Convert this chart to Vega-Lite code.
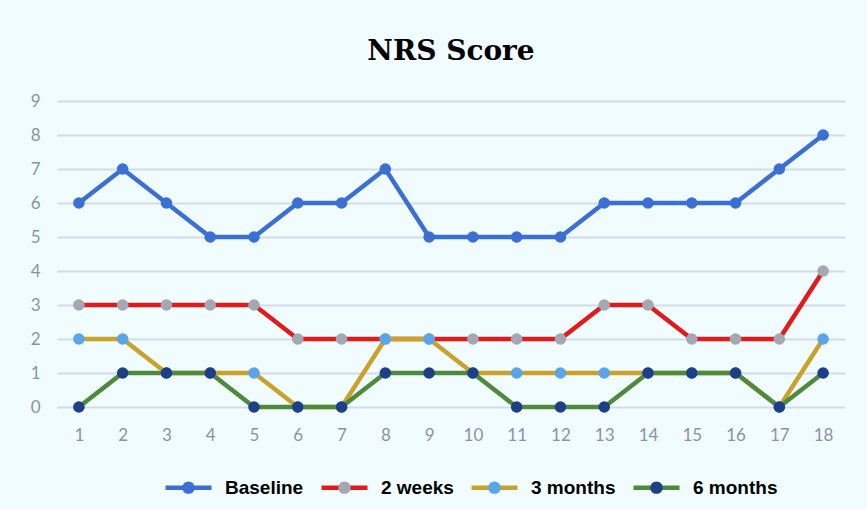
{
  "$schema": "https://vega.github.io/schema/vega-lite/v6.json",
  "width": 788,
  "height": 306,
  "autosize": {"type": "none"},
  "padding": {"left": 57, "top": 101, "right": 22, "bottom": 102},
  "background": "#f0fcfd",
  "title": {
    "text": "NRS Score",
    "font": "DejaVu Serif",
    "fontSize": 28,
    "fontWeight": "bold",
    "color": "#000000",
    "anchor": "middle",
    "offset": 26
  },
  "config": {
    "view": {"stroke": null}
  },
  "data": {
    "values": [
      {"x": 1, "series": "Baseline", "value": 6},
      {"x": 2, "series": "Baseline", "value": 7},
      {"x": 3, "series": "Baseline", "value": 6},
      {"x": 4, "series": "Baseline", "value": 5},
      {"x": 5, "series": "Baseline", "value": 5},
      {"x": 6, "series": "Baseline", "value": 6},
      {"x": 7, "series": "Baseline", "value": 6},
      {"x": 8, "series": "Baseline", "value": 7},
      {"x": 9, "series": "Baseline", "value": 5},
      {"x": 10, "series": "Baseline", "value": 5},
      {"x": 11, "series": "Baseline", "value": 5},
      {"x": 12, "series": "Baseline", "value": 5},
      {"x": 13, "series": "Baseline", "value": 6},
      {"x": 14, "series": "Baseline", "value": 6},
      {"x": 15, "series": "Baseline", "value": 6},
      {"x": 16, "series": "Baseline", "value": 6},
      {"x": 17, "series": "Baseline", "value": 7},
      {"x": 18, "series": "Baseline", "value": 8},
      {"x": 1, "series": "2 weeks", "value": 3},
      {"x": 2, "series": "2 weeks", "value": 3},
      {"x": 3, "series": "2 weeks", "value": 3},
      {"x": 4, "series": "2 weeks", "value": 3},
      {"x": 5, "series": "2 weeks", "value": 3},
      {"x": 6, "series": "2 weeks", "value": 2},
      {"x": 7, "series": "2 weeks", "value": 2},
      {"x": 8, "series": "2 weeks", "value": 2},
      {"x": 9, "series": "2 weeks", "value": 2},
      {"x": 10, "series": "2 weeks", "value": 2},
      {"x": 11, "series": "2 weeks", "value": 2},
      {"x": 12, "series": "2 weeks", "value": 2},
      {"x": 13, "series": "2 weeks", "value": 3},
      {"x": 14, "series": "2 weeks", "value": 3},
      {"x": 15, "series": "2 weeks", "value": 2},
      {"x": 16, "series": "2 weeks", "value": 2},
      {"x": 17, "series": "2 weeks", "value": 2},
      {"x": 18, "series": "2 weeks", "value": 4},
      {"x": 1, "series": "3 months", "value": 2},
      {"x": 2, "series": "3 months", "value": 2},
      {"x": 3, "series": "3 months", "value": 1},
      {"x": 4, "series": "3 months", "value": 1},
      {"x": 5, "series": "3 months", "value": 1},
      {"x": 6, "series": "3 months", "value": 0},
      {"x": 7, "series": "3 months", "value": 0},
      {"x": 8, "series": "3 months", "value": 2},
      {"x": 9, "series": "3 months", "value": 2},
      {"x": 10, "series": "3 months", "value": 1},
      {"x": 11, "series": "3 months", "value": 1},
      {"x": 12, "series": "3 months", "value": 1},
      {"x": 13, "series": "3 months", "value": 1},
      {"x": 14, "series": "3 months", "value": 1},
      {"x": 15, "series": "3 months", "value": 1},
      {"x": 16, "series": "3 months", "value": 1},
      {"x": 17, "series": "3 months", "value": 0},
      {"x": 18, "series": "3 months", "value": 2},
      {"x": 1, "series": "6 months", "value": 0},
      {"x": 2, "series": "6 months", "value": 1},
      {"x": 3, "series": "6 months", "value": 1},
      {"x": 4, "series": "6 months", "value": 1},
      {"x": 5, "series": "6 months", "value": 0},
      {"x": 6, "series": "6 months", "value": 0},
      {"x": 7, "series": "6 months", "value": 0},
      {"x": 8, "series": "6 months", "value": 1},
      {"x": 9, "series": "6 months", "value": 1},
      {"x": 10, "series": "6 months", "value": 1},
      {"x": 11, "series": "6 months", "value": 0},
      {"x": 12, "series": "6 months", "value": 0},
      {"x": 13, "series": "6 months", "value": 0},
      {"x": 14, "series": "6 months", "value": 1},
      {"x": 15, "series": "6 months", "value": 1},
      {"x": 16, "series": "6 months", "value": 1},
      {"x": 17, "series": "6 months", "value": 0},
      {"x": 18, "series": "6 months", "value": 1}
    ]
  },
  "encoding": {
    "x": {
      "field": "x",
      "type": "ordinal",
      "scale": {"padding": 0.5},
      "axis": {
        "title": null,
        "labelAngle": 0,
        "ticks": false,
        "domain": false,
        "grid": false,
        "labelPadding": 20,
        "labelFont": "Lato",
        "labelFontSize": 17,
        "labelColor": "#8a93a6"
      }
    },
    "y": {
      "field": "value",
      "type": "quantitative",
      "scale": {"domain": [0, 9], "nice": false},
      "axis": {
        "title": null,
        "values": [0, 1, 2, 3, 4, 5, 6, 7, 8, 9],
        "ticks": false,
        "domain": false,
        "grid": true,
        "gridColor": "#d3dbeb",
        "gridWidth": 2,
        "labelPadding": 17,
        "labelFont": "Lato",
        "labelFontSize": 17,
        "labelColor": "#8a93a6"
      }
    }
  },
  "layer": [
    {
      "mark": {"type": "line", "strokeWidth": 4.5},
      "encoding": {
        "stroke": {
          "field": "series",
          "type": "nominal",
          "scale": {
            "domain": ["Baseline", "2 weeks", "3 months", "6 months"],
            "range": ["#3b6fd4", "#e3191c", "#c8a22a", "#4f8a3c"]
          },
          "legend": {
            "orient": "none",
            "legendX": 106,
            "legendY": 361,
            "direction": "horizontal",
            "title": null,
            "symbolType": "stroke",
            "symbolSize": 2116,
            "symbolStrokeWidth": 4.5,
            "labelFont": "Liberation Sans",
            "labelFontSize": 19,
            "labelFontWeight": "bold",
            "labelColor": "#000000",
            "labelOffset": 11,
            "columnPadding": 8,
            "padding": 0
          }
        }
      }
    },
    {
      "mark": {"type": "point", "filled": true, "opacity": 1, "size": 135},
      "encoding": {
        "fill": {
          "field": "series",
          "type": "nominal",
          "sort": ["Baseline", "2 weeks", "3 months", "6 months"],
          "scale": {
            "range": ["#3b6fd4", "#a3a8b3", "#5aa5ea", "#1d3f87"]
          },
          "legend": {
            "orient": "none",
            "legendX": 106,
            "legendY": 361,
            "zindex": 1,
            "direction": "horizontal",
            "title": null,
            "symbolType": "M-1,0L1,0M0.27,0A0.27,0.27,0,1,1,-0.27,0A0.27,0.27,0,1,1,0.27,0Z",
            "symbolSize": 2116,
            "symbolStrokeWidth": 4.5,
            "symbolStrokeColor": "transparent",
            "symbolOpacity": 1,
            "labelFont": "Liberation Sans",
            "labelFontSize": 19,
            "labelFontWeight": "bold",
            "labelColor": "#000000",
            "labelOpacity": 0,
            "labelOffset": 11,
            "columnPadding": 8,
            "padding": 0
          }
        }
      }
    }
  ]
}
